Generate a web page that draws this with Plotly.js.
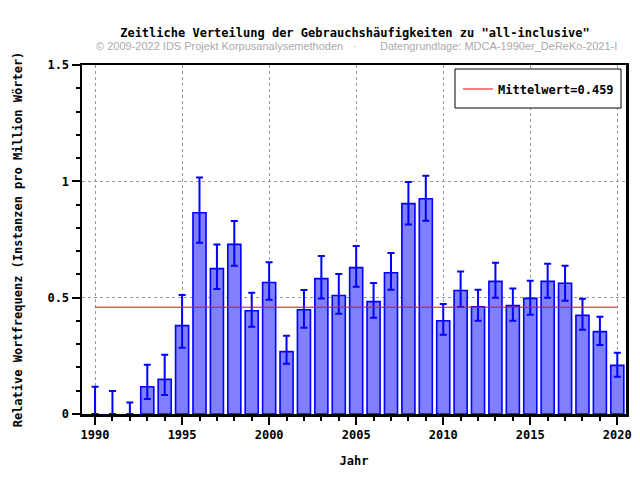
<!DOCTYPE html>
<html>
<head>
<meta charset="utf-8">
<script src="https://cdn.plot.ly/plotly-3.0.1.min.js"></script>
<style>html,body{margin:0;padding:0;background:#fff;}#chart{width:640px;height:480px;}</style>
</head>
<body>
<div id="chart"></div>
<script>
const years = [1990,1991,1992,1993,1994,1995,1996,1997,1998,1999,2000,2001,2002,2003,2004,2005,2006,2007,2008,2009,2010,2011,2012,2013,2014,2015,2016,2017,2018,2019,2020];
const freq = [0,0,0,0.117,0.149,0.380,0.865,0.625,0.729,0.444,0.565,0.268,0.448,0.582,0.509,0.629,0.483,0.607,0.904,0.925,0.401,0.531,0.461,0.570,0.466,0.497,0.570,0.562,0.424,0.354,0.209];
const ciUpper = [0.117,0.099,0.049,0.212,0.255,0.511,1.016,0.728,0.829,0.521,0.652,0.336,0.533,0.679,0.602,0.722,0.563,0.692,0.997,1.024,0.473,0.612,0.534,0.650,0.539,0.573,0.646,0.637,0.495,0.418,0.263];
const ciLower = [0,0,0,0.064,0.082,0.285,0.736,0.537,0.637,0.375,0.491,0.216,0.371,0.496,0.431,0.547,0.414,0.534,0.814,0.831,0.341,0.460,0.401,0.500,0.401,0.427,0.500,0.487,0.362,0.297,0.160];
const meanValue = 0.459;
const meanX = [1990, 2020];

const errPlus = freq.map((v,i)=>ciUpper[i]-v);
const errMinus = freq.map((v,i)=>v-ciLower[i]);
const borderWidths = freq.map(v => v > 0 ? 1.6 : 0);

const mono = "DejaVu Sans Mono, monospace";
const axisFont = {family: mono, size: 12, color: '#000', weight: 'bold'};
const subFont = {family: 'Liberation Sans, Arial, sans-serif', size: 11, color: '#aaaaaa', weight: 'normal'};

const data = [
  {
    type: 'bar', x: years, y: freq, width: 0.75, showlegend: false,
    marker: {color: '#8080ff', line: {color: '#0000ff', width: borderWidths}},
    error_y: {type: 'data', symmetric: false, array: errPlus, arrayminus: errMinus, color: '#0000ff', thickness: 2, width: 3.5},
    hoverinfo: 'x+y'
  },
  {
    type: 'scatter', mode: 'lines', x: meanX, y: [meanValue, meanValue],
    name: 'Mittelwert=' + meanValue, line: {color: '#ff0000', width: 1}
  }
];

const subY = 1 + (65-46)/349;

const layout = {
  width: 640, height: 480,
  margin: {l: 82, r: 14, t: 65, b: 66},
  paper_bgcolor: '#fff', plot_bgcolor: '#fff',
  font: axisFont,
  title: {text: 'Zeitliche Verteilung der Gebrauchshäufigkeiten zu "all-inclusive"', font: axisFont, x: 355/640, xanchor: 'center', y: 1 - 33/480, yanchor: 'middle', yref: 'container'},
  xaxis: {
    range: [1989.25, 2020.5], tick0: 1990, dtick: 5,
    ticks: 'outside', ticklen: 8, tickwidth: 2, tickcolor: '#000',
    showline: true, linecolor: '#000', linewidth: 2.5, mirror: true,
    showgrid: true, gridcolor: '#999', griddash: 'dot', gridwidth: 1,
    zeroline: false, tickfont: axisFont,
    minor: {dtick: 1, tick0: 1990, ticks: 'outside', ticklen: 4, tickwidth: 2, tickcolor: '#000', showgrid: false},
    title: {text: 'Jahr', font: axisFont, standoff: 16}
  },
  yaxis: {
    range: [0, 1.5], tick0: 0, dtick: 0.5,
    ticks: 'outside', ticklen: 8, tickwidth: 2, tickcolor: '#000',
    showline: true, linecolor: '#000', linewidth: 2.5, mirror: true,
    showgrid: true, gridcolor: '#999', griddash: 'dot', gridwidth: 1,
    zeroline: false, tickfont: axisFont,
    minor: {dtick: 0.1, ticks: 'outside', ticklen: 4, tickwidth: 2, tickcolor: '#000', showgrid: false},
    title: {text: 'Relative Wortfrequenz (Instanzen pro Million Wörter)', font: axisFont, standoff: 22}
  },
  legend: {
    x: (458-82)/544, y: (414-89)/349, xanchor: 'left', yanchor: 'middle',
    bgcolor: 'rgba(0,0,0,0)', borderwidth: 0,
    font: axisFont
  },
  shapes: [
    {type: 'rect', xref: 'paper', yref: 'paper', layer: 'above',
     x0: (455-82)/544, x1: (621-82)/544, y0: (414-108)/349, y1: (414-69)/349,
     line: {color: '#000', width: 1}, fillcolor: '#fff'}
  ],
  annotations: [
    {xref: 'paper', yref: 'paper', x: (94-82)/544, y: subY, xanchor: 'left', yanchor: 'middle', showarrow: false,
     text: '© 2009-2022 IDS Projekt Korpusanalysemethoden', font: subFont},
    {xref: 'paper', yref: 'paper', x: (355-82)/544, y: subY, xanchor: 'center', yanchor: 'middle', showarrow: false,
     text: '·', font: subFont},
    {xref: 'paper', yref: 'paper', x: (378-82)/544, y: subY, xanchor: 'left', yanchor: 'middle', showarrow: false,
     text: 'Datengrundlage: MDCA-1990er_DeReKo-2021-I', font: subFont}
  ]
};

Plotly.newPlot('chart', data, layout, {displayModeBar: false, staticPlot: true});
</script>
</body>
</html>
